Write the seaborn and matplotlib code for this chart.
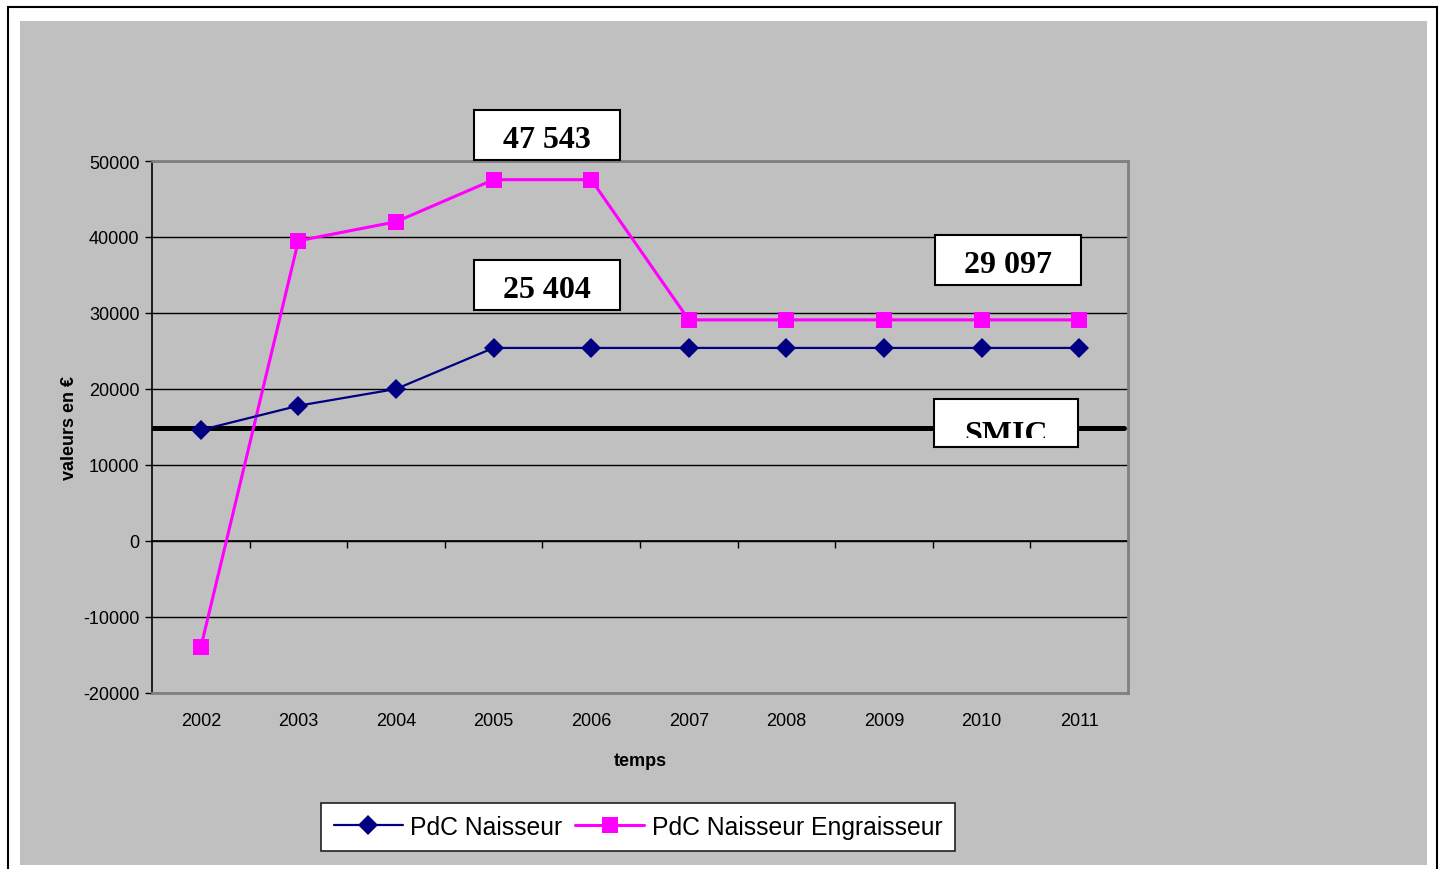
import pandas as pd
import seaborn as sns
import matplotlib.pyplot as plt
from matplotlib.patches import Rectangle

# --------------------------
# Data
# --------------------------
annees = [2002, 2003, 2004, 2005, 2006, 2007, 2008, 2009, 2010, 2011]
naisseur = [14600, 17800, 20000, 25404, 25404, 25404, 25404, 25404, 25404, 25404]
engraisseur = [-14000, 39500, 42000, 47543, 47543, 29097, 29097, 29097, 29097, 29097]
smic = 14900
y_ticks = [-20000, -10000, 0, 10000, 20000, 30000, 40000, 50000]

# boxed labels: (text, year position, y position)
etiquettes = [("47 543", 2005.55, 53450),
              ("25 404", 2005.55, 33700),
              ("29 097", 2010.27, 37000)]

df_n = pd.DataFrame({"annee": annees, "valeur": naisseur})
df_e = pd.DataFrame({"annee": annees, "valeur": engraisseur})

# --------------------------
# Figure
# --------------------------
sns.set_style("white")
plt.rcParams['font.family'] = ['Liberation Sans', 'DejaVu Sans']
plt.rcParams.update({"text.color": "black", "axes.labelcolor": "black",
                     "xtick.color": "black", "ytick.color": "black"})

fig = plt.figure(figsize=(14.45, 8.7), dpi=100)
W, H = 1445, 870
# outer frame + grey chart area
fig.patches.append(Rectangle((8 / W, -0.01), 1429 / W, 1 - 8 / H + 0.01,
                             transform=fig.transFigure, fill=False,
                             edgecolor="black", lw=1.5, zorder=-10))
fig.patches.append(Rectangle((20 / W, 1 - 866 / H), 1407 / W, 844 / H,
                             transform=fig.transFigure, facecolor="#C0C0C0",
                             edgecolor="none", zorder=-10))

ax = fig.add_axes([152 / W, 1 - 694 / H, 976 / W, 532 / H])
ax.set_facecolor("#C0C0C0")

ax.axhline(smic, xmin=0, xmax=0.996, color="black", lw=3.6, zorder=2)

sns.lineplot(data=df_n, x="annee", y="valeur", ax=ax, color="#000080",
             marker="D", markersize=10, markeredgewidth=0, lw=1.6,
             label="PdC Naisseur", zorder=4)
sns.lineplot(data=df_e, x="annee", y="valeur", ax=ax, color="#FF00FF",
             marker="s", markersize=12, markeredgewidth=0, lw=2.2,
             label="PdC Naisseur Engraisseur", zorder=3)

ax.set_xlim(annees[0] - 0.5, annees[-1] + 0.5)
ax.set_ylim(y_ticks[0], y_ticks[-1])
ax.set_yticks(y_ticks)
ax.set_yticklabels([str(v) for v in y_ticks], fontsize=13)
ax.set_xticks(annees)
ax.set_xticklabels([str(a) for a in annees], fontsize=13)
ax.tick_params(axis="x", length=0, pad=14)
ax.tick_params(axis="y", length=5, width=1, color="black", left=True, pad=4)
ax.yaxis.grid(True, color="black", lw=1)
ax.set_axisbelow(True)

for s in ["top", "right", "bottom"]:
    ax.spines[s].set_color("#808080")
    ax.spines[s].set_linewidth(2)
ax.spines["left"].set_color("black")
ax.spines["left"].set_linewidth(1.2)

# category axis crossing at zero
frac0 = (0 - y_ticks[0]) / (y_ticks[-1] - y_ticks[0])
sec = ax.secondary_xaxis(frac0)
sec.set_xticks([a + 0.5 for a in annees])
sec.set_xticklabels([])
sec.tick_params(length=5, width=1, color="black", direction="out")
sec.spines["bottom"].set_color("black")
sec.spines["bottom"].set_linewidth(1.2)

ax.set_xlabel("temps", fontsize=13, fontweight="bold", labelpad=16)
ax.set_ylabel("valeurs en €", fontsize=13, fontweight="bold", labelpad=4)

# boxed value labels
bw = 146 / 97.6
bh = 50 / 0.0076
for txt, xc, yc in etiquettes:
    ax.add_patch(Rectangle((xc - bw / 2, yc - bh / 2), bw, bh, facecolor="white",
                           edgecolor="black", lw=1.5, clip_on=False, zorder=6))
    ax.text(xc, yc - 600, txt, ha="center", va="center", fontsize=23,
            fontweight="bold", family="Liberation Serif", zorder=7)

# SMIC box (text cut at the bottom as in the original)
sx, sy = 2010.25, 15500
ax.add_patch(Rectangle((sx - 144 / 97.6 / 2, sy - 48 / 0.0076 / 2), 144 / 97.6,
                       48 / 0.0076, facecolor="white", edgecolor="black", lw=1.5,
                       clip_on=False, zorder=6))
smic_txt = ax.text(sx, sy - 2500, "SMIC", ha="center", va="baseline", fontsize=23,
                   fontweight="bold", family="Liberation Serif", zorder=7, clip_on=True)
clip = Rectangle((sx - 1, sy - 1900), 2, 6000, transform=ax.transData)
smic_txt.set_clip_path(clip)

leg = ax.legend(loc="center", bbox_to_anchor=(638 / W, 1 - 828 / H),
                bbox_transform=fig.transFigure, ncol=2, fontsize=17.8,
                frameon=True, fancybox=False, edgecolor="#202020",
                facecolor="white", framealpha=1,
                handlelength=2.8, handletextpad=0.3, columnspacing=0.5,
                borderpad=0.5, borderaxespad=0)
leg.get_frame().set_linewidth(1.2)

fig.savefig("out.png", dpi=100)
